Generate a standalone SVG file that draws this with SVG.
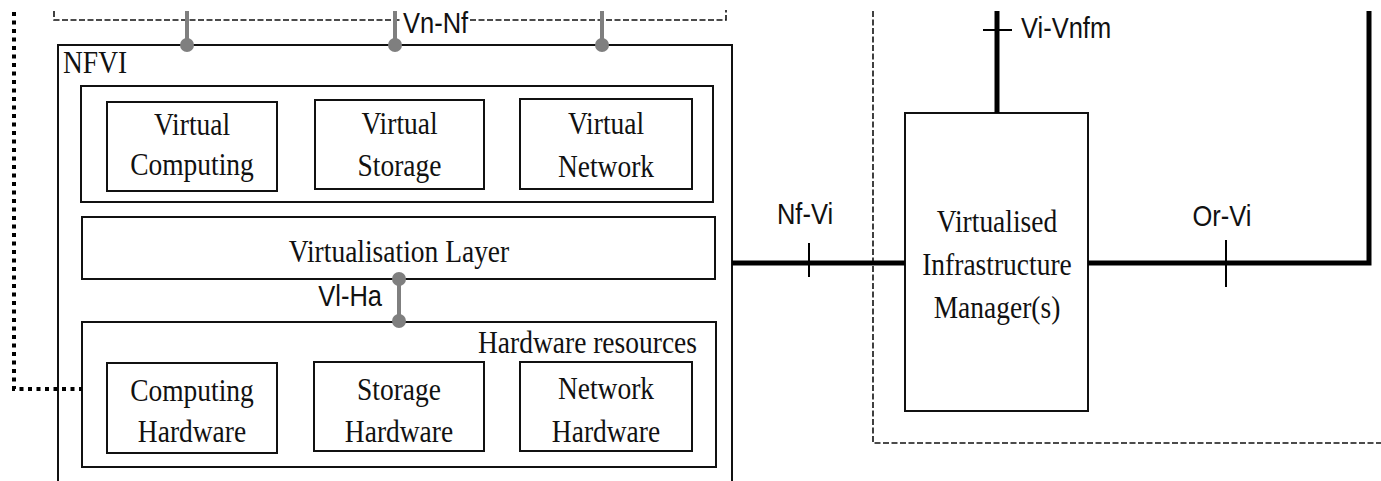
<svg xmlns="http://www.w3.org/2000/svg" width="1381" height="481" viewBox="0 0 1381 481">
  <style>
    .box { fill: #fff; stroke: #111; stroke-width: 2; }
    .frame { fill: none; stroke: #111; stroke-width: 2; }
    .serif { font-family: "Liberation Serif", "Times New Roman", serif; font-size: 27.5px; fill: #111; text-anchor: middle; }
    .sans { font-family: "Liberation Sans", Arial, sans-serif; font-size: 25.5px; fill: #111; }
    .thick { stroke: #000; stroke-width: 5; fill: none; }
    .tick { stroke: #000; stroke-width: 2; fill: none; }
    .ref { stroke: #7f7f7f; stroke-width: 4; fill: none; }
    .refdot { fill: #7f7f7f; }
    .dashed { stroke: #111; stroke-width: 1.6; fill: none; stroke-dasharray: 6 2.5; }
    .dotted { stroke: #000; stroke-width: 4; fill: none; stroke-dasharray: 4 4.5; }
  </style>

  <rect width="1381" height="481" fill="#fff"/>

  <!-- NFVI and its layers -->
  <g id="nfvi">
    <path class="frame" d="M58,481 V45 H732 V481"/>
    <text class="serif" transform="matrix(1 0 0 1.18 63 73)" style="text-anchor:start">NFVI</text>
  </g>

  <g id="virtual-resources">
    <rect class="box" x="81" y="86" width="632" height="116"/>
  </g>
  <g id="virtual-computing">
    <rect class="box" x="107" y="102" width="170" height="89"/>
    <text class="serif" transform="matrix(1 0 0 1.18 192 135)">Virtual</text>
    <text class="serif" transform="matrix(1 0 0 1.18 192 175)">Computing</text>
  </g>
  <g id="virtual-storage">
    <rect class="box" x="315" y="100" width="169" height="89"/>
    <text class="serif" transform="matrix(1 0 0 1.18 399.5 134)">Virtual</text>
    <text class="serif" transform="matrix(1 0 0 1.18 399.5 176)">Storage</text>
  </g>
  <g id="virtual-network">
    <rect class="box" x="520" y="99" width="172" height="90"/>
    <text class="serif" transform="matrix(1 0 0 1.18 606 134)">Virtual</text>
    <text class="serif" transform="matrix(1 0 0 1.18 606 177)">Network</text>
  </g>

  <g id="virtualisation-layer">
    <rect class="box" x="82" y="217" width="633" height="62"/>
    <text class="serif" transform="matrix(1 0 0 1.18 399 262)">Virtualisation Layer</text>
  </g>

  <g id="hardware-resources">
    <rect class="box" x="82" y="322" width="634" height="145"/>
    <text class="serif" transform="matrix(1 0 0 1.18 697 353)" style="text-anchor:end">Hardware resources</text>
  </g>
  <g id="computing-hardware">
    <rect class="box" x="107" y="363" width="170" height="90"/>
    <text class="serif" transform="matrix(1 0 0 1.18 192 401)">Computing</text>
    <text class="serif" transform="matrix(1 0 0 1.18 192 442)">Hardware</text>
  </g>
  <g id="storage-hardware">
    <rect class="box" x="314" y="362" width="170" height="89"/>
    <text class="serif" transform="matrix(1 0 0 1.18 399 400)">Storage</text>
    <text class="serif" transform="matrix(1 0 0 1.18 399 442)">Hardware</text>
  </g>
  <g id="network-hardware">
    <rect class="box" x="520" y="362" width="172" height="89"/>
    <text class="serif" transform="matrix(1 0 0 1.18 606 399)">Network</text>
    <text class="serif" transform="matrix(1 0 0 1.18 606 442)">Hardware</text>
  </g>

  <!-- Virtualised Infrastructure Manager -->
  <g id="vim">
    <rect class="box" x="905" y="113" width="183" height="298"/>
    <text class="serif" transform="matrix(1 0 0 1.18 997 232)">Virtualised</text>
    <text class="serif" transform="matrix(1 0 0 1.18 997 275)">Infrastructure</text>
    <text class="serif" transform="matrix(1 0 0 1.18 997 318)">Manager(s)</text>
  </g>

  <!-- boundaries of neighbouring domains -->
  <g id="boundaries">
    <path class="dashed" d="M54,11 V20 H726 V10"/>
    <path class="dashed" d="M873,11 V443 H1381"/>
    <path class="dotted" d="M14,12 V389 H82"/>
  </g>

  <!-- reference points -->
  <g id="connectors">
    <!-- Vn-Nf -->
    <line class="ref" x1="187" y1="11" x2="187" y2="45"/>
    <line class="ref" x1="395" y1="11" x2="395" y2="45"/>
    <line class="ref" x1="602" y1="11" x2="602" y2="45"/>
    <circle class="refdot" cx="187" cy="45" r="7"/>
    <circle class="refdot" cx="395" cy="45" r="7"/>
    <circle class="refdot" cx="602" cy="45" r="7"/>
    <rect x="401" y="8" width="68" height="26" fill="#fff"/>
    <text class="sans" transform="matrix(1 0 0 1.18 403 33)">Vn-Nf</text>

    <!-- Vl-Ha -->
    <line class="ref" x1="399" y1="279" x2="399" y2="321"/>
    <circle class="refdot" cx="399" cy="279" r="7"/>
    <circle class="refdot" cx="399" cy="321" r="7"/>
    <text class="sans" transform="matrix(1 0 0 1.18 382 306)" style="text-anchor:end">Vl-Ha</text>

    <!-- Nf-Vi -->
    <line class="thick" x1="732" y1="263" x2="905" y2="263"/>
    <line class="tick" x1="809" y1="243" x2="809" y2="277"/>
    <text class="sans" transform="matrix(1 0 0 1.18 805 224)" style="text-anchor:middle">Nf-Vi</text>

    <!-- Or-Vi -->
    <path class="thick" d="M1088,263 H1369 V11"/>
    <line class="tick" x1="1226" y1="240" x2="1226" y2="287"/>
    <text class="sans" transform="matrix(1 0 0 1.18 1222 226)" style="text-anchor:middle">Or-Vi</text>

    <!-- Vi-Vnfm -->
    <line class="thick" x1="997" y1="11" x2="997" y2="113"/>
    <line class="tick" x1="983" y1="30" x2="1012" y2="30"/>
    <text class="sans" transform="matrix(1 0 0 1.18 1021 38)">Vi-Vnfm</text>
  </g>
</svg>
